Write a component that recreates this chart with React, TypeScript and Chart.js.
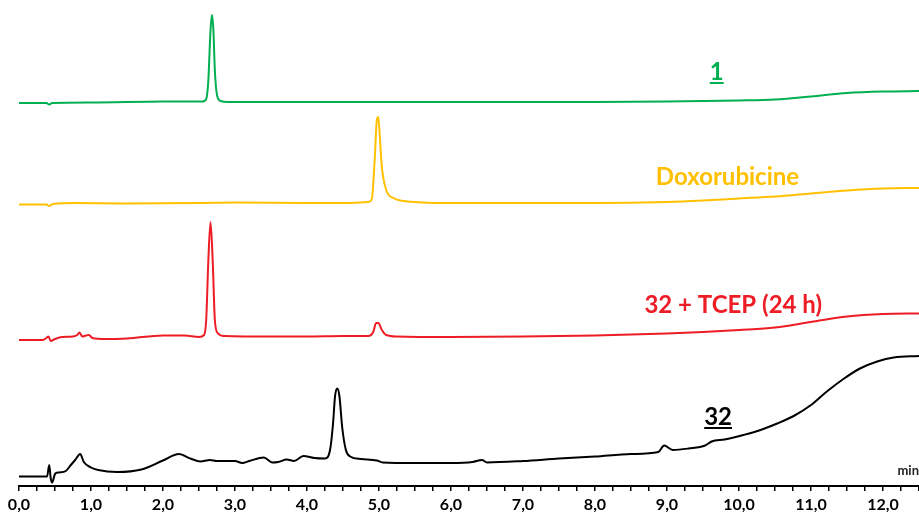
import React, { useEffect, useRef } from "react";
import { Chart, registerables } from "chart.js";

Chart.register(...registerables);

// Retention time (min) and stacked detector signal (offset traces, arbitrary units)
const greenTimes = [0,0.38,0.42,0.46,1.0,2.0,2.55,2.6,2.63,2.66,2.68,2.70,2.72,2.75,2.8,2.9,4.0,6.0,8.0,9.0,10.0,10.5,11.0,11.5,12.0,12.5];
const greenValues = [383,383,381.5,383,383.5,384.5,384.5,387,406,456,471,456,416,391,385,384,384,384,384,384.5,385.5,386.5,389.5,393,394.5,395];

const yellowTimes = [0,0.38,0.42,0.47,0.8,1.5,2.5,3.0,4.0,4.5,4.85,4.9,4.94,4.97,4.99,5.01,5.04,5.1,5.2,5.35,5.6,6.0,7.0,8.0,9.0,9.5,10.0,10.5,11.0,11.5,12.0,12.5];
const yellowValues = [281.5,281.5,280,282,283,282.5,283,283.5,283,283,284,287,326,366,369,351,319,296,288,285,283.5,283,283,283,284,285.5,287.5,289.5,292.5,295.5,297.5,298];

const redTimes = [0,0.33,0.38,0.41,0.44,0.5,0.6,0.75,0.81,0.84,0.88,0.93,0.97,1.02,1.2,1.5,2.0,2.3,2.5,2.57,2.6,2.63,2.66,2.69,2.72,2.76,2.85,3.5,4.0,4.5,4.85,4.92,4.96,4.99,5.04,5.1,5.25,6.0,7.0,8.0,9.0,9.5,10.0,10.5,11.0,11.5,12.0,12.5];
const redValues = [146,146,148,149.5,145,147,149,149.5,151,153.5,149.5,150.5,151,148,147,147.5,150.5,150.5,149,151,166,226,264,226,166,153,150,149.5,149.5,150,150,154,163,163,156,151,149.5,149,149.5,150.5,152.5,154,156,158.5,164,169.5,172,172.5];

const blackTimes = [0,0.39,0.42,0.44,0.46,0.5,0.55,0.65,0.72,0.78,0.85,0.9,1.0,1.1,1.36,1.7,2.0,2.22,2.38,2.52,2.65,2.75,3.0,3.1,3.2,3.4,3.52,3.6,3.72,3.82,3.95,4.1,4.25,4.32,4.36,4.39,4.42,4.45,4.49,4.54,4.6,4.75,4.97,5.05,5.5,6.0,6.3,6.43,6.5,7.0,7.5,8.0,8.5,8.88,8.96,9.08,9.3,9.53,9.62,9.8,10.06,10.3,10.53,10.76,11.0,11.22,11.45,11.68,11.92,12.15,12.5];
const blackValues = [9.5,9.5,21,8,3.5,12,13.5,15,21,26,32,24,18.5,16,14,16.5,25.5,32,27.5,24.5,26,25,25,23,25,28.5,23.5,24,26.5,25,30,28,27.5,36,61,90,97.5,90,58,36,29.5,27,25.5,23.5,23,23,24,26,23.5,25,27.5,29.5,32,34,40.5,36,37.5,40.5,44.5,46.5,51,56,62.5,70,81,94.5,107,117.5,124.5,128.5,130];

const seriesNames = ["1", "Doxorubicine", "32 + TCEP (24 h)", "32"];
const seriesColors = ["#00b050", "#ffc000", "#ee1c25", "#000000"];
const labelTimes = [9.69, 9.84, 9.92, 9.71];
const labelValues = [406, 301, 173, 61];
const labelUnderline = [true, false, false, true];

const X_MIN = 0;
const X_MAX = 12.5;
const X_STEP = 0.25;
const axisUnit = "min";

const pts = (t: number[], v: number[]) => t.map((x, i) => ({ x, y: v[i] }));

const labelPlugin = {
  id: "traceLabels",
  afterDraw(chart: any) {
    const { ctx, scales } = chart;
    const xs = scales.x;
    const ys = scales.y;
    ctx.save();
    seriesNames.forEach((name, i) => {
      ctx.font = "bold 24px Lato";
      ctx.fillStyle = seriesColors[i];
      ctx.textAlign = "center";
      ctx.textBaseline = "alphabetic";
      const px = xs.getPixelForValue(labelTimes[i]);
      const py = ys.getPixelForValue(labelValues[i]);
      ctx.fillText(name, px, py);
      if (labelUnderline[i]) {
        const w = ctx.measureText(name).width;
        ctx.fillRect(px - w / 2, py + 2, w, 2);
      }
    });
    ctx.font = "bold 13px Lato";
    ctx.fillStyle = "#222";
    ctx.textAlign = "right";
    ctx.fillText(axisUnit, xs.getPixelForValue(X_MAX), ys.getPixelForValue(11));
    ctx.restore();
  },
};

export default function App() {
  const ref = useRef<HTMLCanvasElement | null>(null);
  useEffect(() => {
    if (!ref.current) return;
    const chart = new Chart(ref.current, {
      type: "line",
      data: {
        datasets: [
          { label: seriesNames[0], data: pts(greenTimes, greenValues), borderColor: seriesColors[0] },
          { label: seriesNames[1], data: pts(yellowTimes, yellowValues), borderColor: seriesColors[1] },
          { label: seriesNames[2], data: pts(redTimes, redValues), borderColor: seriesColors[2] },
          { label: seriesNames[3], data: pts(blackTimes, blackValues), borderColor: seriesColors[3] },
        ].map((d) => ({
          ...d,
          borderWidth: 2,
          pointRadius: 0,
          fill: false,
          cubicInterpolationMode: "monotone" as const,
        })),
      },
      options: {
        responsive: false,
        animation: false,
        layout: { padding: { left: 19, right: 0, top: 0, bottom: 0 } },
        plugins: { legend: { display: false }, tooltip: { enabled: false } },
        scales: {
          x: {
            type: "linear",
            min: X_MIN,
            max: X_MAX,
            afterFit: (scale: any) => {
              scale.paddingRight = 0;
              scale.paddingLeft = 0;
              scale.height = 26;
            },
            border: { display: true, color: "#000", width: 2 },
            grid: { display: true, drawOnChartArea: false, drawTicks: true, tickLength: 5, color: "#000", lineWidth: 1.5 },
            ticks: {
              stepSize: X_STEP,
              autoSkip: false,
              maxRotation: 0,
              padding: 6,
              color: "#000",
              font: { family: "Lato", weight: "bold", size: 16, lineHeight: 1 },
              callback: (v: any) => {
                const n = Number(v);
                return Math.abs(n - Math.round(n)) < 1e-6 ? Math.round(n).toFixed(1).replace(".", ",") : "";
              },
            },
          },
          y: { type: "linear", display: false, min: 0, max: 486 },
        },
      },
      plugins: [labelPlugin],
    });
    return () => chart.destroy();
  }, []);
  return (
    <div style={{ position: "absolute", left: 0, top: 0, width: 919, height: 512, overflow: "hidden", background: "#fff" }}>
      <canvas ref={ref} width={919} height={512} style={{ display: "block" }} />
    </div>
  );
}
